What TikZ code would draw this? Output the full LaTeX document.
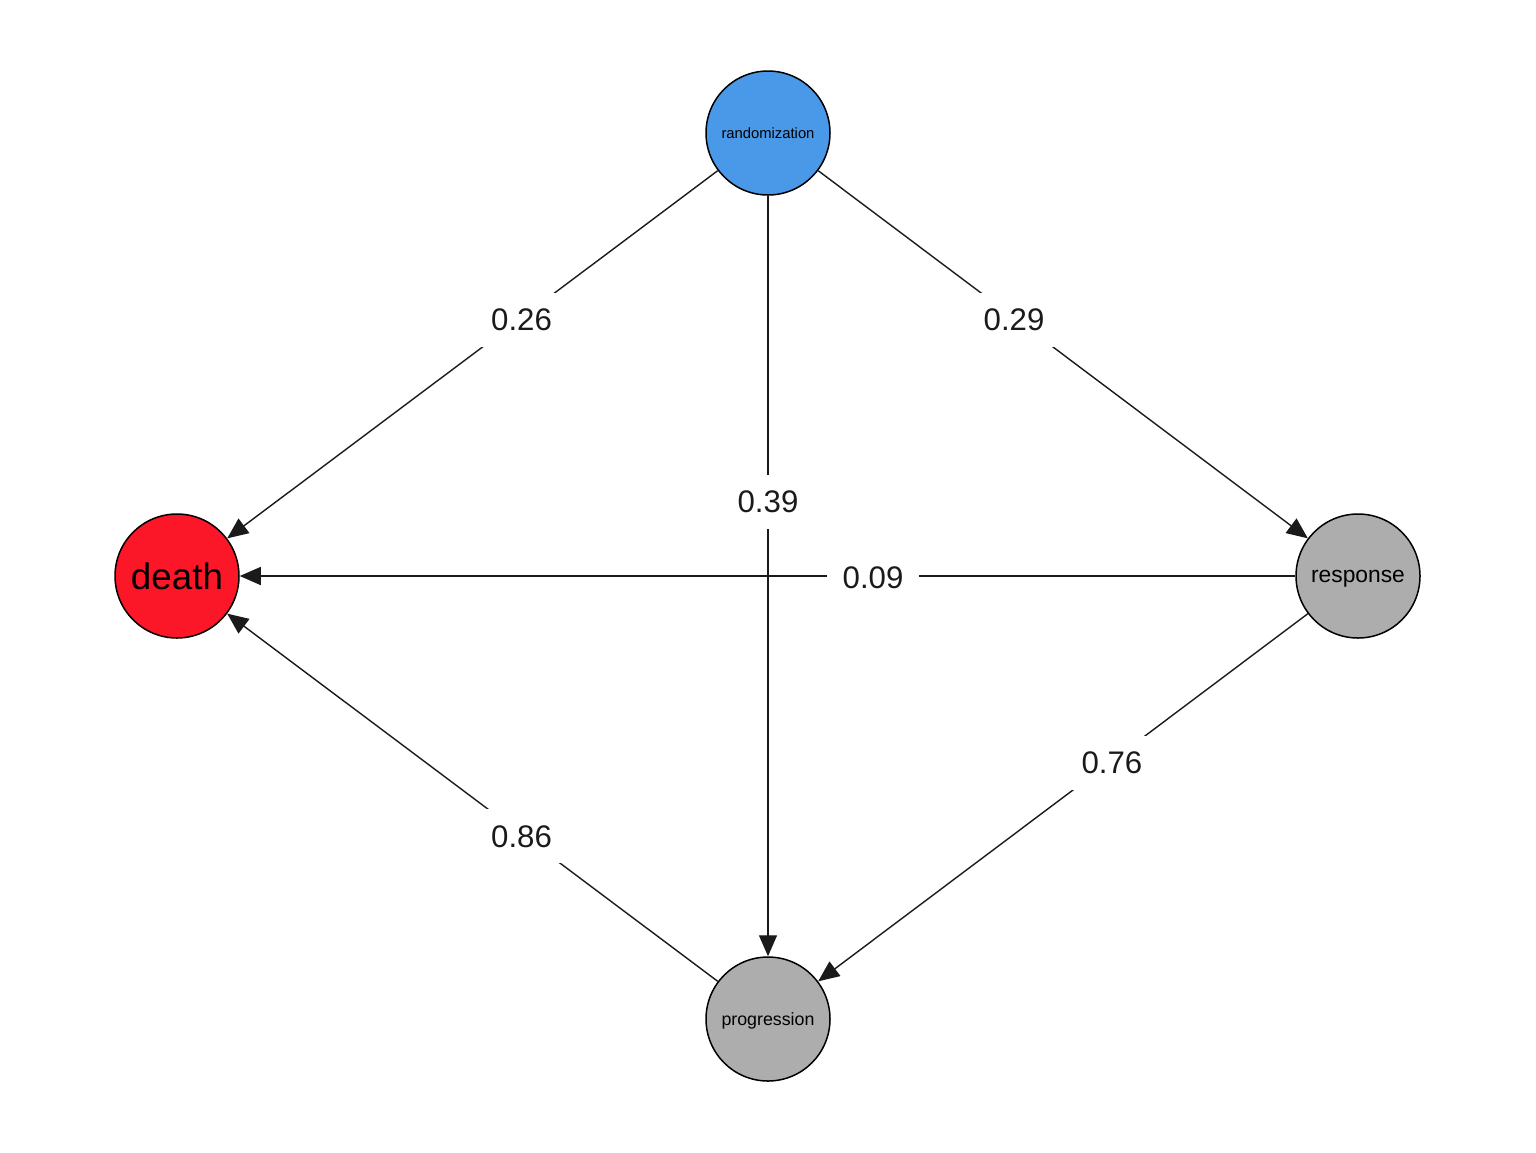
\documentclass[tikz,border=0pt]{standalone}
\usepackage{fontspec}
\setmainfont{Liberation Sans}
\usetikzlibrary{arrows.meta}
\definecolor{rblue}{HTML}{4A98E8}
\definecolor{dred}{HTML}{FB1727}
\definecolor{sgray}{HTML}{ADADAD}
\definecolor{ink}{HTML}{1A1A1A}
\tikzset{
  state/.style={circle, draw=black, line width=0.75pt, minimum size=62pt, inner sep=0pt, text depth=0pt},
  edge/.style={draw=ink, line width=0.7pt, -{Triangle[length=10.5pt,width=9pt]}},
  lbl/.style={fill=white, inner sep=8pt, text=ink, font=\fontsize{15.6}{18}\selectfont, pos=0.4, yshift=-1pt}
}
\begin{document}
\begin{tikzpicture}[x=0.5pt,y=-0.5pt]
\useasboundingbox (0,0) rectangle (1536,1152);
\node[state, fill=rblue, font=\fontsize{7.4}{9}\selectfont] (r) at (768,133) {randomization};
\node[state, fill=dred, font=\fontsize{18.4}{22}\selectfont] (d) at (177,576) {death};
\node[state, fill=sgray, font=\fontsize{11.4}{14}\selectfont] (s) at (1358,576) {response};
\node[state, fill=sgray, font=\fontsize{8.9}{11}\selectfont] (p) at (768,1019) {progression};
\draw[edge] (r) -- node[lbl] {0.26} (d);
\draw[edge] (r) -- node[lbl] {0.29} (s);
\draw[edge] (r) -- node[lbl] {0.39} (p);
\draw[edge] (s) -- node[lbl] {0.09} (d);
\draw[edge] (s) -- node[lbl] {0.76} (p);
\draw[edge] (p) -- node[lbl] {0.86} (d);
\end{tikzpicture}
\end{document}
